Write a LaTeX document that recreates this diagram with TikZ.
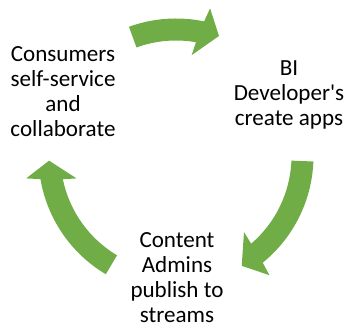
\documentclass[tikz,border=0pt]{standalone}
\usepackage{fontspec}
\setmainfont{Carlito}
\definecolor{cyclegreen}{HTML}{70AD47}

\begin{document}
\begin{tikzpicture}[x=0.75pt,y=0.75pt,
  every node/.style={align=center,font=\fontsize{17.3}{18.75}\selectfont},
  cyclearrow/.style={fill=cyclegreen}]
\useasboundingbox (0,0) rectangle (346,334);
\coordinate (C) at (176,178);
\node (consumers) at (63,242)  {Consumers\\self-service\\and\\collaborate};
\node (developer) at (289,239) {BI\\Developer\textquotesingle s\\create apps};
\node (admins)    at (177,56)  {Content\\Admins\\publish to\\streams};
\begin{scope}[shift={(C)}]
% consumers -> developer
\fill[cyclearrow] (110:137.5) arc[start angle=110,end angle=78.2,radius=137.5]
  -- (77:151.5) -- (70.3:127.5) -- (81.2:102) -- (80.05:115.5)
  arc[start angle=80.05,end angle=110,radius=115.5] -- cycle;
% developer -> admins
\fill[cyclearrow] (-2.3:137.5) arc[start angle=-2.3,end angle=-50.9,radius=137.5]
  -- (-51.9:151.5) -- (-59.1:128) -- (-48.2:102) -- (-49.4:115.5)
  arc[start angle=-49.4,end angle=-2.3,radius=115.5] -- cycle;
% admins -> consumers
\fill[cyclearrow] (239.3:137.5) arc[start angle=239.3,end angle=189.7,radius=137.5]
  -- (188.5:151.5) -- (182.1:127) -- (192.7:102) -- (191.6:115.5)
  arc[start angle=191.6,end angle=239.3,radius=115.5] -- cycle;
\end{scope}
\end{tikzpicture}
\end{document}
